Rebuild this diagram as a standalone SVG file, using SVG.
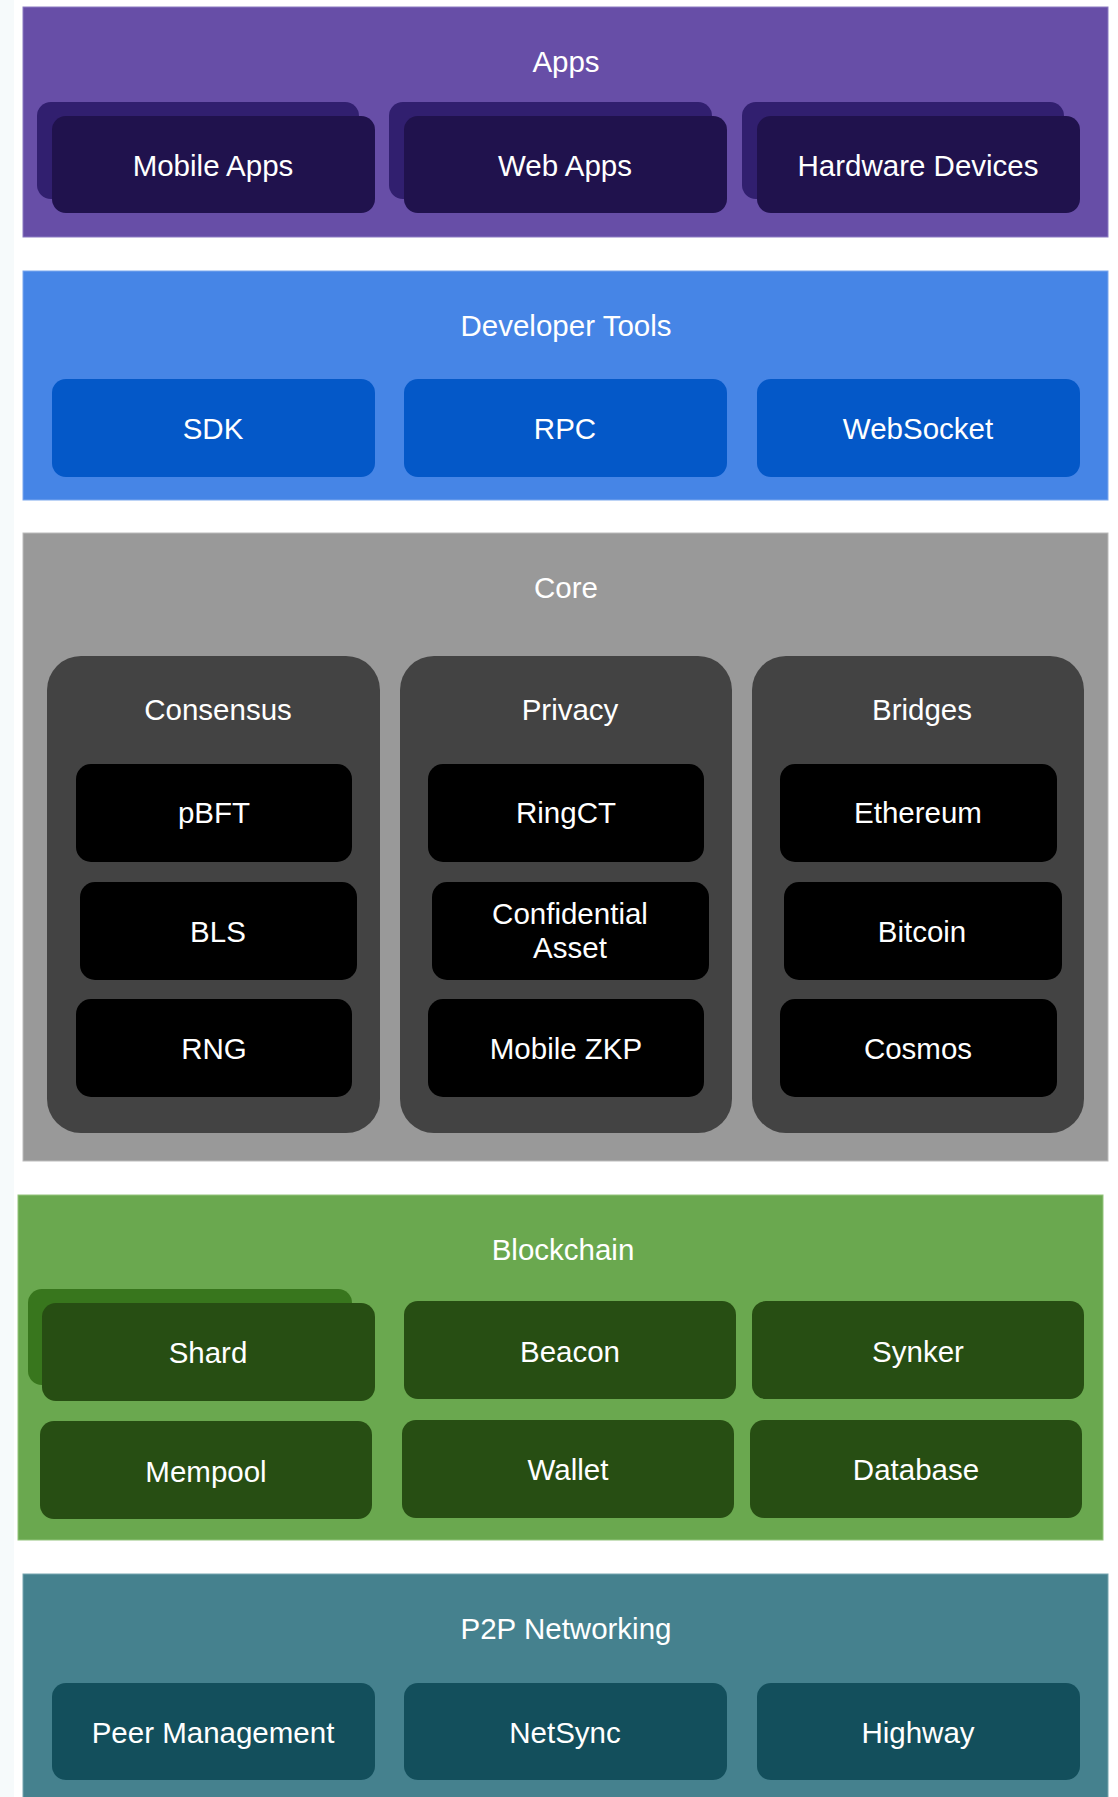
<svg xmlns="http://www.w3.org/2000/svg" width="1118" height="1797" viewBox="0 0 1118 1797">
<style>
  text { font-family: "Liberation Sans", Arial, Helvetica, sans-serif; font-size: 29.5px; fill: #ffffff; text-anchor: middle; }
  .band { stroke-width: 1; }
  .apps-band { fill: #674ea7; stroke: #8b7bc2; }
  .apps-back { fill: #311f6f; }
  .apps-box { fill: #20124d; }
  .dev-band { fill: #4685e6; stroke: #7ba7ee; }
  .dev-box { fill: #0458c8; }
  .core-band { fill: #999999; stroke: #bbbbbb; }
  .core-group { fill: #434343; }
  .core-box { fill: #000000; }
  .bc-band { fill: #6aa84f; stroke: #93c47d; }
  .bc-back { fill: #38761d; }
  .bc-box { fill: #274e13; }
  .p2p-band { fill: #45818e; stroke: #76a5af; }
  .p2p-box { fill: #134f5c; }
</style>
<rect x="0" y="0" width="1118" height="1797" fill="#ffffff"/>
<rect x="0" y="0" width="14" height="1797" fill="#f6fafb"/>

<g id="layer-apps">
  <rect class="band apps-band" x="23" y="7" width="1085" height="230"/>
  <text x="566" y="72">Apps</text>
  <g id="node-mobile-apps">
    <rect class="apps-back" x="37" y="102" width="322" height="97" rx="14"/>
    <rect class="apps-box" x="52" y="116" width="323" height="97" rx="14"/>
    <text x="213" y="176">Mobile Apps</text>
  </g>
  <g id="node-web-apps">
    <rect class="apps-back" x="389" y="102" width="323" height="97" rx="14"/>
    <rect class="apps-box" x="404" y="116" width="323" height="97" rx="14"/>
    <text x="565" y="176">Web Apps</text>
  </g>
  <g id="node-hardware-devices">
    <rect class="apps-back" x="742" y="102" width="322" height="97" rx="14"/>
    <rect class="apps-box" x="757" y="116" width="323" height="97" rx="14"/>
    <text x="918" y="176">Hardware Devices</text>
  </g>
</g>

<g id="layer-developer-tools">
  <rect class="band dev-band" x="23" y="271" width="1085" height="229"/>
  <text x="566" y="336">Developer Tools</text>
  <g id="node-sdk">
    <rect class="dev-box" x="52" y="379" width="323" height="98" rx="14"/>
    <text x="213" y="439">SDK</text>
  </g>
  <g id="node-rpc">
    <rect class="dev-box" x="404" y="379" width="323" height="98" rx="14"/>
    <text x="565" y="439">RPC</text>
  </g>
  <g id="node-websocket">
    <rect class="dev-box" x="757" y="379" width="323" height="98" rx="14"/>
    <text x="918" y="439">WebSocket</text>
  </g>
</g>

<g id="layer-core">
  <rect class="band core-band" x="23" y="533" width="1085" height="628"/>
  <text x="566" y="598">Core</text>
  <g id="group-consensus">
    <rect class="core-group" x="47" y="656" width="333" height="477" rx="34"/>
    <text x="218" y="720">Consensus</text>
    <g id="node-pbft">
      <rect class="core-box" x="76" y="764" width="276" height="98" rx="15"/>
      <text x="214" y="823">pBFT</text>
    </g>
    <g id="node-bls">
      <rect class="core-box" x="80" y="882" width="277" height="98" rx="15"/>
      <text x="218" y="942">BLS</text>
    </g>
    <g id="node-rng">
      <rect class="core-box" x="76" y="999" width="276" height="98" rx="15"/>
      <text x="214" y="1059">RNG</text>
    </g>
  </g>
  <g id="group-privacy">
    <rect class="core-group" x="400" y="656" width="332" height="477" rx="34"/>
    <text x="570" y="720">Privacy</text>
    <g id="node-ringct">
      <rect class="core-box" x="428" y="764" width="276" height="98" rx="15"/>
      <text x="566" y="823">RingCT</text>
    </g>
    <g id="node-confidential-asset">
      <rect class="core-box" x="432" y="882" width="277" height="98" rx="15"/>
      <text x="570" y="924">Confidential</text>
      <text x="570" y="958">Asset</text>
    </g>
    <g id="node-mobile-zkp">
      <rect class="core-box" x="428" y="999" width="276" height="98" rx="15"/>
      <text x="566" y="1059">Mobile ZKP</text>
    </g>
  </g>
  <g id="group-bridges">
    <rect class="core-group" x="752" y="656" width="332" height="477" rx="34"/>
    <text x="922" y="720">Bridges</text>
    <g id="node-ethereum">
      <rect class="core-box" x="780" y="764" width="277" height="98" rx="15"/>
      <text x="918" y="823">Ethereum</text>
    </g>
    <g id="node-bitcoin">
      <rect class="core-box" x="784" y="882" width="278" height="98" rx="15"/>
      <text x="922" y="942">Bitcoin</text>
    </g>
    <g id="node-cosmos">
      <rect class="core-box" x="780" y="999" width="277" height="98" rx="15"/>
      <text x="918" y="1059">Cosmos</text>
    </g>
  </g>
</g>

<g id="layer-blockchain">
  <rect class="band bc-band" x="18" y="1195" width="1085" height="345"/>
  <text x="563" y="1260">Blockchain</text>
  <g id="node-shard">
    <rect class="bc-back" x="28" y="1289" width="324" height="96" rx="14"/>
    <rect class="bc-box" x="42" y="1303" width="333" height="98" rx="14"/>
    <text x="208" y="1363">Shard</text>
  </g>
  <g id="node-beacon">
    <rect class="bc-box" x="404" y="1301" width="332" height="98" rx="14"/>
    <text x="570" y="1362">Beacon</text>
  </g>
  <g id="node-synker">
    <rect class="bc-box" x="752" y="1301" width="332" height="98" rx="14"/>
    <text x="918" y="1362">Synker</text>
  </g>
  <g id="node-mempool">
    <rect class="bc-box" x="40" y="1421" width="332" height="98" rx="14"/>
    <text x="206" y="1482">Mempool</text>
  </g>
  <g id="node-wallet">
    <rect class="bc-box" x="402" y="1420" width="332" height="98" rx="14"/>
    <text x="568" y="1480">Wallet</text>
  </g>
  <g id="node-database">
    <rect class="bc-box" x="750" y="1420" width="332" height="98" rx="14"/>
    <text x="916" y="1480">Database</text>
  </g>
</g>

<g id="layer-p2p">
  <rect class="band p2p-band" x="23" y="1574" width="1085" height="230"/>
  <text x="566" y="1639">P2P Networking</text>
  <g id="node-peer-management">
    <rect class="p2p-box" x="52" y="1683" width="323" height="97" rx="14"/>
    <text x="213" y="1743">Peer Management</text>
  </g>
  <g id="node-netsync">
    <rect class="p2p-box" x="404" y="1683" width="323" height="97" rx="14"/>
    <text x="565" y="1743">NetSync</text>
  </g>
  <g id="node-highway">
    <rect class="p2p-box" x="757" y="1683" width="323" height="97" rx="14"/>
    <text x="918" y="1743">Highway</text>
  </g>
</g>

<g id="connectors"></g>
</svg>
